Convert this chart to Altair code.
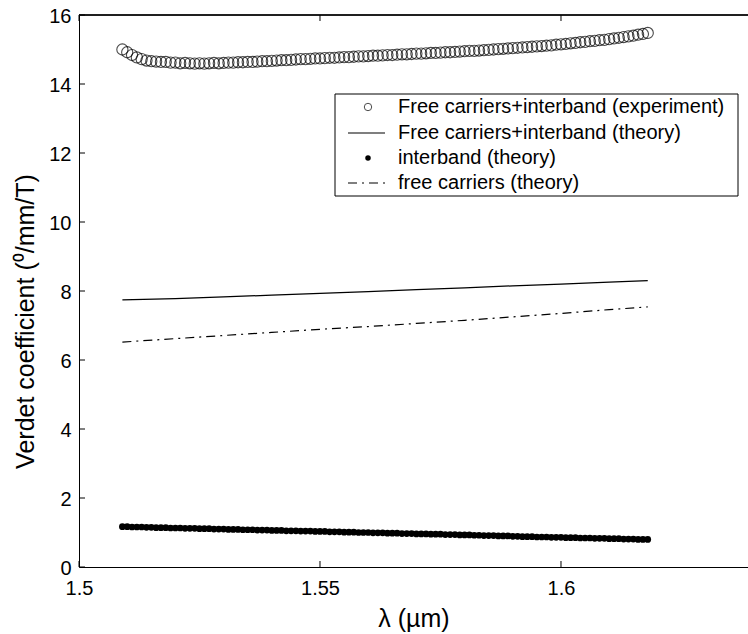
import altair as alt
import pandas as pd

# ---------------- data ----------------
wl_exp = [round(1.509 + 0.001 * i, 3) for i in range(110)]  # wavelength grid (µm)
verdet_exp = [
    15.00, 14.92, 14.84, 14.77, 14.72, 14.68, 14.66, 14.65, 14.64, 14.64,
    14.62, 14.62, 14.60, 14.61, 14.60, 14.59, 14.60, 14.59, 14.60, 14.61,
    14.60, 14.61, 14.62, 14.62, 14.63, 14.63, 14.64, 14.64, 14.65, 14.66,
    14.66, 14.67, 14.68, 14.69, 14.69, 14.70, 14.71, 14.72, 14.72, 14.73,
    14.74, 14.74, 14.75, 14.76, 14.76, 14.77, 14.78, 14.78, 14.79, 14.80,
    14.80, 14.81, 14.82, 14.82, 14.83, 14.84, 14.84, 14.85, 14.86, 14.86,
    14.87, 14.88, 14.88, 14.89, 14.90, 14.90, 14.91, 14.92, 14.92, 14.93,
    14.94, 14.95, 14.96, 14.96, 14.97, 14.98, 14.99, 15.00, 15.01, 15.02,
    15.03, 15.04, 15.05, 15.06, 15.07, 15.08, 15.09, 15.10, 15.11, 15.12,
    15.14, 15.15, 15.16, 15.18, 15.19, 15.21, 15.22, 15.24, 15.25, 15.27,
    15.28, 15.30, 15.32, 15.34, 15.36, 15.38, 15.40, 15.43, 15.45, 15.48,
]
verdet_interband = [
    1.17, 1.17, 1.16, 1.16, 1.16, 1.15, 1.15, 1.14, 1.14, 1.14,
    1.13, 1.13, 1.13, 1.12, 1.12, 1.12, 1.11, 1.11, 1.11, 1.10,
    1.10, 1.10, 1.09, 1.09, 1.09, 1.08, 1.08, 1.08, 1.07, 1.07,
    1.07, 1.06, 1.06, 1.06, 1.05, 1.05, 1.05, 1.04, 1.04, 1.04,
    1.03, 1.03, 1.03, 1.02, 1.02, 1.02, 1.01, 1.01, 1.01, 1.00,
    1.00, 1.00, 0.99, 0.99, 0.99, 0.98, 0.98, 0.98, 0.97, 0.97,
    0.97, 0.96, 0.96, 0.96, 0.95, 0.95, 0.95, 0.94, 0.94, 0.94,
    0.93, 0.93, 0.93, 0.92, 0.92, 0.91, 0.91, 0.91, 0.90, 0.90,
    0.90, 0.89, 0.89, 0.88, 0.88, 0.88, 0.87, 0.87, 0.87, 0.86,
    0.86, 0.86, 0.85, 0.85, 0.85, 0.84, 0.84, 0.84, 0.83, 0.83,
    0.83, 0.82, 0.82, 0.82, 0.81, 0.81, 0.81, 0.80, 0.80, 0.80,
]
wl_theory = [1.509, 1.52, 1.53, 1.54, 1.55, 1.56, 1.57, 1.58, 1.59, 1.60, 1.61, 1.618]
verdet_total_theory = [7.74, 7.78, 7.83, 7.88, 7.93, 7.98, 8.04, 8.09, 8.15, 8.20, 8.26, 8.30]
verdet_free_theory = [6.52, 6.62, 6.71, 6.80, 6.89, 6.97, 7.06, 7.15, 7.25, 7.35, 7.46, 7.54]

x_ticks = [1.5, 1.55, 1.6]
y_ticks = [0, 2, 4, 6, 8, 10, 12, 14, 16]

legend_labels = [
    "Free carriers+interband (experiment)",
    "Free carriers+interband (theory)",
    "interband (theory)",
    "free carriers (theory)",
]

# ---------------- layout ----------------
W, H = 669, 552
FONT = "Liberation Sans"

xscale = alt.Scale(domain=[1.5, 1.6388], nice=False, zero=False)
yscale = alt.Scale(domain=[0, 16], nice=False)

df_exp = pd.DataFrame({"wl": wl_exp, "v": verdet_exp})
df_int = pd.DataFrame({"wl": wl_exp, "v": verdet_interband})
df_tot = pd.DataFrame({"wl": wl_theory, "v": verdet_total_theory})
df_free = pd.DataFrame({"wl": wl_theory, "v": verdet_free_theory})

X = alt.X(
    "wl:Q", scale=xscale,
    axis=alt.Axis(values=x_ticks, title="λ (µm)", format="~g", labelFlush=False,
                  labelOverlap=False, labelPadding=11, titlePadding=8),
)
Y = alt.Y(
    "v:Q", scale=yscale,
    axis=alt.Axis(values=y_ticks, title="Verdet coefficient (⁰/mm/T)", format="d",
                  labelFlush=False, labelOverlap=False, labelPadding=8,
                  labelOffset=1, titlePadding=10, titleY=306),
)

exp_layer = alt.Chart(df_exp).mark_point(
    shape="circle", filled=False, color="black", size=125, strokeWidth=1.1
).encode(x=X, y=Y)

int_layer = alt.Chart(df_int).mark_point(
    shape="circle", filled=True, color="black", size=45, opacity=1
).encode(x=X, y=Y)

tot_layer = alt.Chart(df_tot).mark_line(color="black", strokeWidth=1.2).encode(x=X, y=Y)

free_layer = alt.Chart(df_free).mark_line(
    color="black", strokeWidth=1.2, strokeDash=[9, 5, 2, 5]
).encode(x=X, y=Y)

# inward ticks (MATLAB style)
df_xt = pd.DataFrame({"wl": x_ticks})
df_yt = pd.DataFrame({"v": y_ticks})
xt_bottom = alt.Chart(df_xt).mark_rule(color="black", strokeWidth=1).encode(
    x=alt.X("wl:Q", scale=xscale), y=alt.value(H), y2=alt.value(H - 6))
xt_top = alt.Chart(df_xt).mark_rule(color="black", strokeWidth=1).encode(
    x=alt.X("wl:Q", scale=xscale), y=alt.value(0), y2=alt.value(6))
yt_left = alt.Chart(df_yt).mark_rule(color="black", strokeWidth=1).encode(
    y=alt.Y("v:Q", scale=yscale), x=alt.value(0), x2=alt.value(6))

top_line = alt.Chart(df_xt).mark_rule(color="black", strokeWidth=1).encode(
    x=alt.value(0), x2=alt.value(W), y=alt.value(0))

# ---------------- legend ----------------
one = pd.DataFrame({"a": [0]})
LX0, LX1, LY0, LY1 = 256, 659, 79, 181
row_y = [92, 118, 143, 168]
sym_x = 289

leg_box = alt.Chart(one).mark_rect(fill="white", stroke="black", strokeWidth=1).encode(
    x=alt.value(LX0), x2=alt.value(LX1), y=alt.value(LY0), y2=alt.value(LY1))
leg_layers = [leg_box]
leg_layers.append(alt.Chart(one).mark_point(
    shape="circle", filled=False, color="black", size=55, strokeWidth=1
).encode(x=alt.value(sym_x), y=alt.value(row_y[0])))
leg_layers.append(alt.Chart(one).mark_rule(color="black", strokeWidth=1.2).encode(
    x=alt.value(269), x2=alt.value(306), y=alt.value(row_y[1])))
leg_layers.append(alt.Chart(one).mark_point(
    shape="circle", filled=True, color="black", size=30, opacity=1
).encode(x=alt.value(sym_x), y=alt.value(row_y[2])))
leg_layers.append(alt.Chart(one).mark_rule(
    color="black", strokeWidth=1.2, strokeDash=[9, 5, 2, 5]
).encode(x=alt.value(269), x2=alt.value(306), y=alt.value(row_y[3])))
for lab, ry in zip(legend_labels, row_y):
    leg_layers.append(alt.Chart(one).mark_text(
        align="left", baseline="middle", font=FONT, fontSize=20, color="black"
    ).encode(x=alt.value(319), y=alt.value(ry), text=alt.value(lab)))

chart = alt.layer(
    tot_layer, free_layer, int_layer, exp_layer,
    xt_bottom, xt_top, yt_left, top_line,
    *leg_layers,
).properties(
    width=W, height=H,
    autosize=alt.AutoSizeParams(type="none"),
    padding={"left": 79, "top": 15, "right": 0, "bottom": 67},
    background="white",
).configure_view(
    stroke=None
).configure_axis(
    labelFont=FONT, labelFontSize=20, labelColor="black",
    titleFont=FONT, titleFontSize=25, titleColor="black", titleFontWeight="normal",
    domainColor="black", domainWidth=1, ticks=False, grid=False,
)

chart.save("out.html", embed_options={"renderer": "svg", "actions": False})
